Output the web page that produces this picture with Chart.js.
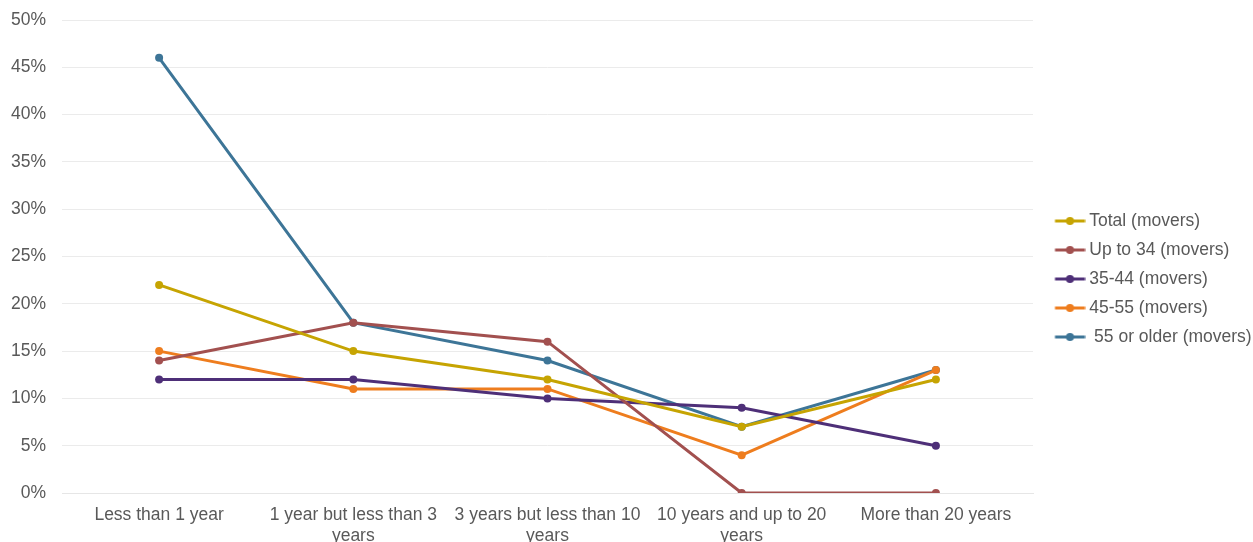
<!DOCTYPE html>
<html>
<head>
<meta charset="utf-8">
<script src="https://cdn.jsdelivr.net/npm/chart.js@4/dist/chart.umd.min.js"></script>
<style>
  html, body { margin: 0; padding: 0; background: #fff; }
  #wrap { width: 1253px; height: 542px; position: relative; }
</style>
</head>
<body>
<div id="wrap"><canvas id="chart"></canvas></div>
<script>
// data
const categories = [
  'Less than 1 year',
  ['1 year but less than 3', 'years'],
  ['3 years but less than 10', 'years'],
  ['10 years and up to 20', 'years'],
  'More than 20 years'
];
const seriesNames = ['Total (movers)', 'Up to 34 (movers)', '35-44 (movers)', '45-55 (movers)', ' 55 or older (movers)'];
const totalMovers = [22, 15, 12, 7, 12];
const upTo34 = [14, 18, 16, 0, 0];
const age35to44 = [12, 12, 10, 9, 5];
const age45to55 = [15, 11, 11, 4, 13];
const age55plus = [46, 18, 14, 7, 13];
const yTicks = [0, 5, 10, 15, 20, 25, 30, 35, 40, 45, 50];

const colors = ['#c6a402', '#a2504f', '#4e2f78', '#ee7d1e', '#3d7597'];
const seriesValues = [totalMovers, upTo34, age35to44, age45to55, age55plus];
const FONT = { family: 'Liberation Sans, Arial', size: 17.5, lineHeight: 1.2 };

// legend marker: short line with a dot, drawn off-centre so it sits close to the text
function marker(color) {
  const c = document.createElement('canvas');
  c.width = 46; c.height = 10;
  const g = c.getContext('2d');
  g.strokeStyle = color; g.lineWidth = 3;
  g.beginPath(); g.moveTo(15.5, 5); g.lineTo(45.5, 5); g.stroke();
  g.fillStyle = color;
  g.beginPath(); g.arc(30.5, 5, 4, 0, Math.PI * 2); g.fill();
  return c;
}

const datasets = seriesNames.map((name, i) => ({
  label: name,
  data: seriesValues[i],
  borderColor: colors[i],
  backgroundColor: colors[i],
  borderWidth: 3,
  pointRadius: 4,
  pointHoverRadius: 4,
  pointBorderWidth: 0,
  tension: 0,
  pointStyle: 'circle'
}));

new Chart(document.getElementById('chart'), {
  type: 'line',
  data: { labels: categories, datasets },
  options: {
    responsive: true,
    maintainAspectRatio: false,
    animation: false,
    layout: { padding: { top: 1, left: 0, right: 0, bottom: 0 } },
    plugins: {
      tooltip: { enabled: false },
      legend: {
        position: 'right',
        align: 'center',
        maxWidth: 220,
        // empty title only pushes the items down a little
        title: { display: true, text: '', padding: 0, font: { size: 12.5, lineHeight: 1.2 } },
        labels: {
          color: '#595959',
          font: FONT,
          usePointStyle: true,
          pointStyleWidth: 36,
          padding: 11.5,
          generateLabels: (chart) => chart.data.datasets.map((ds, i) => ({
            text: ds.label,
            fillStyle: ds.borderColor,
            strokeStyle: ds.borderColor,
            lineWidth: 0,
            pointStyle: marker(ds.borderColor),
            datasetIndex: i,
            hidden: false,
            fontColor: '#595959'
          }))
        }
      }
    },
    scales: {
      x: {
        offset: true,
        grid: { display: false },
        border: { display: true, color: '#e6e6e6', width: 1 },
        afterFit: (scale) => { scale.height = 49; },
        ticks: {
          color: '#595959',
          font: FONT,
          maxRotation: 0,
          autoSkip: false,
          padding: 4
        }
      },
      y: {
        min: 0,
        max: 50,
        afterBuildTicks: (axis) => { axis.ticks = yTicks.map(v => ({ value: v })); },
        afterFit: (scale) => { scale.width = 62; scale.paddingTop = 20; },
        grid: { color: '#ebebeb', drawTicks: false, lineWidth: 1 },
        border: { display: false },
        ticks: {
          color: '#595959',
          font: FONT,
          padding: 16,
          callback: (v) => v + '%'
        }
      }
    }
  }
});
</script>
</body>
</html>
